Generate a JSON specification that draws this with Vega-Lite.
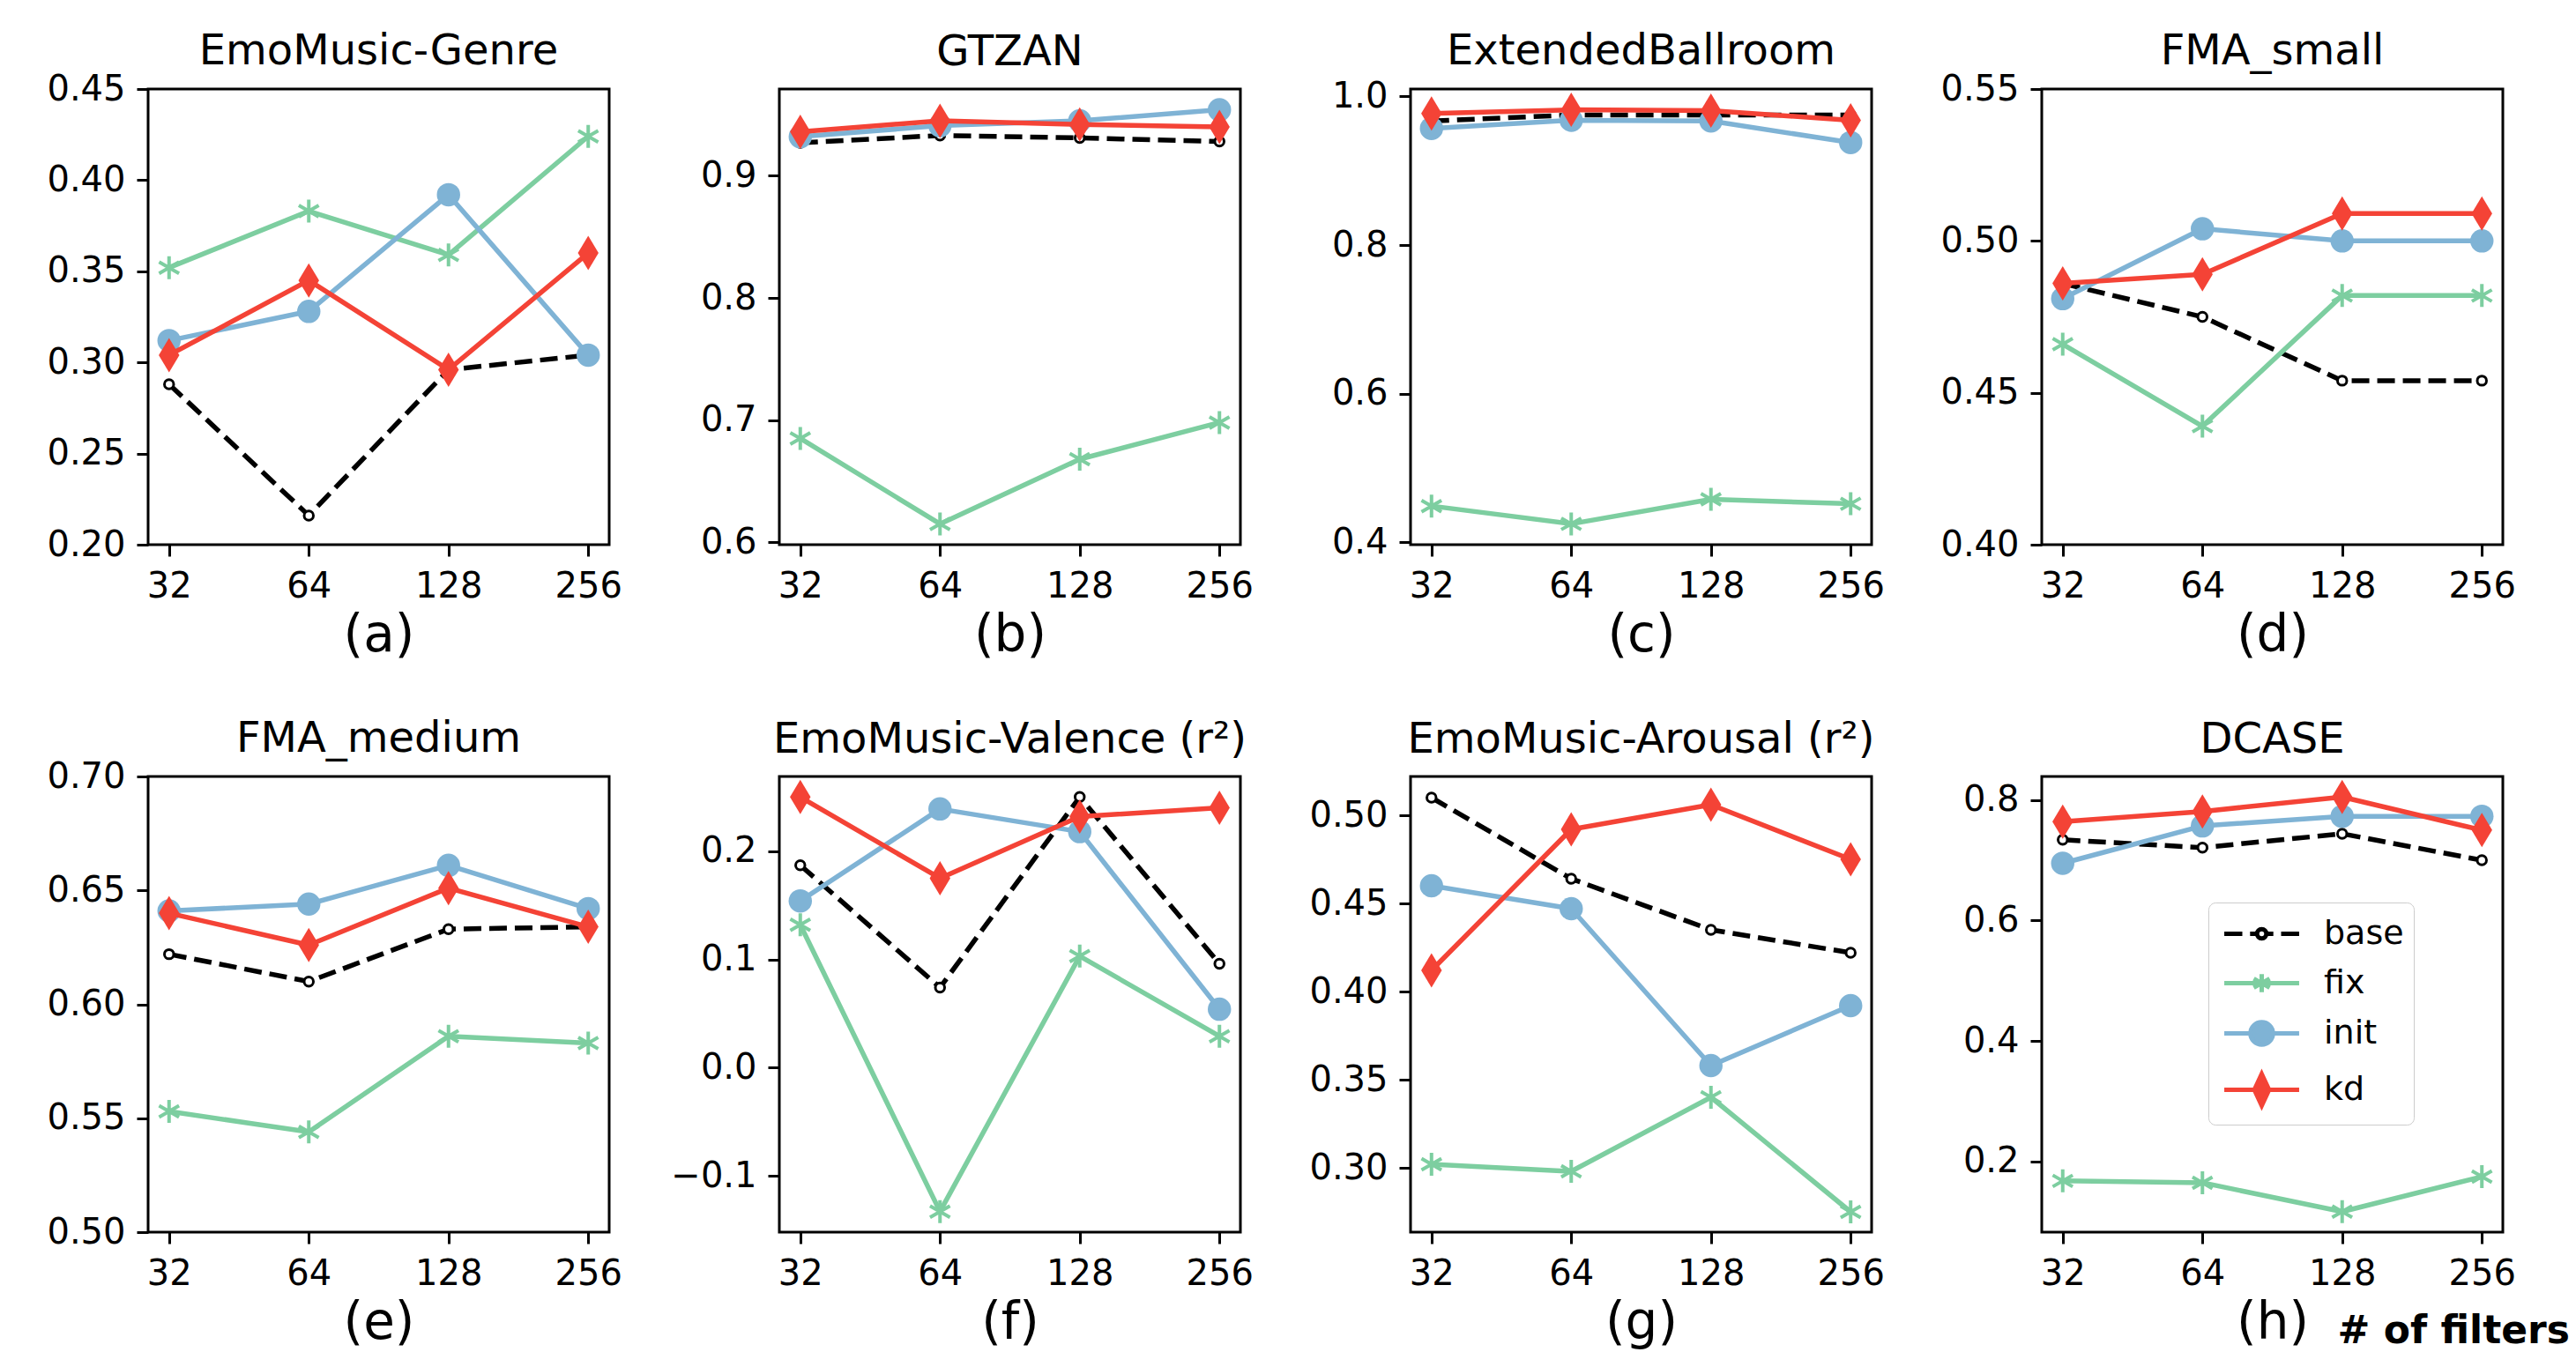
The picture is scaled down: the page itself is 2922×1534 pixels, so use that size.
{
  "$schema": "https://vega.github.io/schema/vega-lite/v6.json",
  "background": "white",
  "padding": {"left": 51, "top": 33, "right": 5, "bottom": 0},
  "config": {
    "font": "DejaVu Sans",
    "view": {"stroke": "#000000", "strokeWidth": 3},
    "axis": {"domain": false, "grid": false, "ticks": true, "tickColor": "#000000", "tickWidth": 3, "tickSize": 13, "labelFont": "DejaVu Sans", "labelFontSize": 40, "labelColor": "#000000", "labelPadding": 13, "labelFlush": false, "labelOverlap": false, "titleFont": "DejaVu Sans", "titleFontSize": 58, "titleFontWeight": "normal", "titleColor": "#000000"},
    "axisX": {"labelPadding": 14, "titlePadding": 7, "labelAngle": 0},
    "title": {"font": "DejaVu Sans", "fontSize": 48, "fontWeight": "normal", "color": "#000000", "baseline": "alphabetic", "offset": 17, "anchor": "middle", "frame": "group"}
  },
  "title": {"text": "# of filters", "orient": "bottom", "anchor": "end", "frame": "bounds", "font": "DejaVu Sans", "fontSize": 44, "fontWeight": "bold", "color": "#000000", "baseline": "alphabetic", "offset": 0, "dy": -8, "dx": 60},
  "resolve": {
    "scale": {"shape": "independent", "fill": "independent", "stroke": "independent"},
    "legend": {"shape": "independent", "fill": "independent", "stroke": "independent"}
  },
  "datasets": {
    "A": [
      {"s": "base", "n": 32, "v": 0.288}, {"s": "base", "n": 64, "v": 0.216}, {"s": "base", "n": 128, "v": 0.296}, {"s": "base", "n": 256, "v": 0.304},
      {"s": "fix", "n": 32, "v": 0.352}, {"s": "fix", "n": 64, "v": 0.383}, {"s": "fix", "n": 128, "v": 0.359}, {"s": "fix", "n": 256, "v": 0.424},
      {"s": "init", "n": 32, "v": 0.312}, {"s": "init", "n": 64, "v": 0.328}, {"s": "init", "n": 128, "v": 0.392}, {"s": "init", "n": 256, "v": 0.304},
      {"s": "kd", "n": 32, "v": 0.304}, {"s": "kd", "n": 64, "v": 0.345}, {"s": "kd", "n": 128, "v": 0.296}, {"s": "kd", "n": 256, "v": 0.360}
    ],
    "B": [
      {"s": "base", "n": 32, "v": 0.927}, {"s": "base", "n": 64, "v": 0.933}, {"s": "base", "n": 128, "v": 0.931}, {"s": "base", "n": 256, "v": 0.928},
      {"s": "fix", "n": 32, "v": 0.685}, {"s": "fix", "n": 64, "v": 0.615}, {"s": "fix", "n": 128, "v": 0.668}, {"s": "fix", "n": 256, "v": 0.698},
      {"s": "init", "n": 32, "v": 0.932}, {"s": "init", "n": 64, "v": 0.941}, {"s": "init", "n": 128, "v": 0.945}, {"s": "init", "n": 256, "v": 0.954},
      {"s": "kd", "n": 32, "v": 0.936}, {"s": "kd", "n": 64, "v": 0.945}, {"s": "kd", "n": 128, "v": 0.942}, {"s": "kd", "n": 256, "v": 0.940}
    ],
    "C": [
      {"s": "base", "n": 32, "v": 0.967}, {"s": "base", "n": 64, "v": 0.975}, {"s": "base", "n": 128, "v": 0.975}, {"s": "base", "n": 256, "v": 0.975},
      {"s": "fix", "n": 32, "v": 0.449}, {"s": "fix", "n": 64, "v": 0.425}, {"s": "fix", "n": 128, "v": 0.458}, {"s": "fix", "n": 256, "v": 0.452},
      {"s": "init", "n": 32, "v": 0.957}, {"s": "init", "n": 64, "v": 0.968}, {"s": "init", "n": 128, "v": 0.967}, {"s": "init", "n": 256, "v": 0.938},
      {"s": "kd", "n": 32, "v": 0.977}, {"s": "kd", "n": 64, "v": 0.982}, {"s": "kd", "n": 128, "v": 0.981}, {"s": "kd", "n": 256, "v": 0.968}
    ],
    "D": [
      {"s": "base", "n": 32, "v": 0.486}, {"s": "base", "n": 64, "v": 0.475}, {"s": "base", "n": 128, "v": 0.454}, {"s": "base", "n": 256, "v": 0.454},
      {"s": "fix", "n": 32, "v": 0.466}, {"s": "fix", "n": 64, "v": 0.439}, {"s": "fix", "n": 128, "v": 0.482}, {"s": "fix", "n": 256, "v": 0.482},
      {"s": "init", "n": 32, "v": 0.481}, {"s": "init", "n": 64, "v": 0.504}, {"s": "init", "n": 128, "v": 0.500}, {"s": "init", "n": 256, "v": 0.500},
      {"s": "kd", "n": 32, "v": 0.486}, {"s": "kd", "n": 64, "v": 0.489}, {"s": "kd", "n": 128, "v": 0.509}, {"s": "kd", "n": 256, "v": 0.509}
    ],
    "E": [
      {"s": "base", "n": 32, "v": 0.622}, {"s": "base", "n": 64, "v": 0.610}, {"s": "base", "n": 128, "v": 0.633}, {"s": "base", "n": 256, "v": 0.634},
      {"s": "fix", "n": 32, "v": 0.553}, {"s": "fix", "n": 64, "v": 0.544}, {"s": "fix", "n": 128, "v": 0.586}, {"s": "fix", "n": 256, "v": 0.583},
      {"s": "init", "n": 32, "v": 0.641}, {"s": "init", "n": 64, "v": 0.644}, {"s": "init", "n": 128, "v": 0.661}, {"s": "init", "n": 256, "v": 0.642},
      {"s": "kd", "n": 32, "v": 0.640}, {"s": "kd", "n": 64, "v": 0.626}, {"s": "kd", "n": 128, "v": 0.651}, {"s": "kd", "n": 256, "v": 0.634}
    ],
    "F": [
      {"s": "base", "n": 32, "v": 0.187}, {"s": "base", "n": 64, "v": 0.074}, {"s": "base", "n": 128, "v": 0.250}, {"s": "base", "n": 256, "v": 0.096},
      {"s": "fix", "n": 32, "v": 0.132}, {"s": "fix", "n": 64, "v": -0.133}, {"s": "fix", "n": 128, "v": 0.103}, {"s": "fix", "n": 256, "v": 0.029},
      {"s": "init", "n": 32, "v": 0.154}, {"s": "init", "n": 64, "v": 0.239}, {"s": "init", "n": 128, "v": 0.218}, {"s": "init", "n": 256, "v": 0.054},
      {"s": "kd", "n": 32, "v": 0.250}, {"s": "kd", "n": 64, "v": 0.175}, {"s": "kd", "n": 128, "v": 0.232}, {"s": "kd", "n": 256, "v": 0.240}
    ],
    "G": [
      {"s": "base", "n": 32, "v": 0.510}, {"s": "base", "n": 64, "v": 0.464}, {"s": "base", "n": 128, "v": 0.435}, {"s": "base", "n": 256, "v": 0.422},
      {"s": "fix", "n": 32, "v": 0.302}, {"s": "fix", "n": 64, "v": 0.298}, {"s": "fix", "n": 128, "v": 0.340}, {"s": "fix", "n": 256, "v": 0.275},
      {"s": "init", "n": 32, "v": 0.460}, {"s": "init", "n": 64, "v": 0.447}, {"s": "init", "n": 128, "v": 0.358}, {"s": "init", "n": 256, "v": 0.392},
      {"s": "kd", "n": 32, "v": 0.412}, {"s": "kd", "n": 64, "v": 0.492}, {"s": "kd", "n": 128, "v": 0.506}, {"s": "kd", "n": 256, "v": 0.475}
    ],
    "H": [
      {"s": "base", "n": 32, "v": 0.734}, {"s": "base", "n": 64, "v": 0.721}, {"s": "base", "n": 128, "v": 0.744}, {"s": "base", "n": 256, "v": 0.700},
      {"s": "fix", "n": 32, "v": 0.168}, {"s": "fix", "n": 64, "v": 0.165}, {"s": "fix", "n": 128, "v": 0.117}, {"s": "fix", "n": 256, "v": 0.175},
      {"s": "init", "n": 32, "v": 0.695}, {"s": "init", "n": 64, "v": 0.757}, {"s": "init", "n": 128, "v": 0.773}, {"s": "init", "n": 256, "v": 0.773},
      {"s": "kd", "n": 32, "v": 0.764}, {"s": "kd", "n": 64, "v": 0.781}, {"s": "kd", "n": 128, "v": 0.805}, {"s": "kd", "n": 256, "v": 0.750}
    ]
  },
  "columns": 4,
  "spacing": {"row": 263, "column": 193},
  "bounds": "flush",
  "concat": [
    {
      "width": 523, "height": 517, "data": {"name": "A"}, "title": {"text": "EmoMusic-Genre", "offset": -1.6},
      "encoding": {
        "x": {"field": "n", "type": "ordinal", "scale": {"type": "point", "domain": [32, 64, 128, 256], "padding": 0.15}, "axis": {"title": "(a)"}},
        "y": {"field": "v", "type": "quantitative", "scale": {"domain": [0.2, 0.45], "nice": false, "zero": false}, "axis": {"title": null, "values": [0.2, 0.25, 0.3, 0.35, 0.4, 0.45], "format": ".2f"}}
      },
      "layer": [
        {"transform": [{"filter": "datum.s === 'base'"}], "mark": {"type": "line", "color": "#000000", "strokeWidth": 5.5, "strokeDash": [20, 9], "point": {"shape": "circle", "size": 110, "filled": true, "fill": "#ffffff", "stroke": "#000000", "strokeWidth": 3, "opacity": 1}}},
        {"transform": [{"filter": "datum.s === 'fix'"}], "mark": {"type": "line", "color": "#7DCEA0", "strokeWidth": 5.5, "strokeJoin": "round", "point": {"shape": "M0,-1L0,1M-0.87,-0.5L0.87,0.5M-0.87,0.5L0.87,-0.5", "size": 676, "filled": false, "fill": "transparent", "stroke": "#7DCEA0", "strokeWidth": 4, "opacity": 1}}},
        {"transform": [{"filter": "datum.s === 'init'"}], "mark": {"type": "line", "color": "#7FB3D5", "strokeWidth": 5.5, "strokeJoin": "round", "point": {"shape": "circle", "size": 700, "filled": true, "color": "#7FB3D5", "opacity": 1}}},
        {"transform": [{"filter": "datum.s === 'kd'"}], "mark": {"type": "line", "color": "#F44336", "strokeWidth": 5.5, "strokeJoin": "round", "point": {"shape": "M0,-1L0.6,0L0,1L-0.6,0Z", "size": 1521, "filled": true, "color": "#F44336", "opacity": 1}}}
      ]
    },
    {
      "width": 523, "height": 517, "data": {"name": "B"}, "title": {"text": "GTZAN", "offset": 17},
      "encoding": {
        "x": {"field": "n", "type": "ordinal", "scale": {"type": "point", "domain": [32, 64, 128, 256], "padding": 0.15}, "axis": {"title": "(b)"}},
        "y": {"field": "v", "type": "quantitative", "scale": {"domain": [0.598, 0.971], "nice": false, "zero": false}, "axis": {"title": null, "values": [0.6, 0.7, 0.8, 0.9], "format": ".1f"}}
      },
      "layer": [
        {"transform": [{"filter": "datum.s === 'base'"}], "mark": {"type": "line", "color": "#000000", "strokeWidth": 5.5, "strokeDash": [20, 9], "point": {"shape": "circle", "size": 110, "filled": true, "fill": "#ffffff", "stroke": "#000000", "strokeWidth": 3, "opacity": 1}}},
        {"transform": [{"filter": "datum.s === 'fix'"}], "mark": {"type": "line", "color": "#7DCEA0", "strokeWidth": 5.5, "strokeJoin": "round", "point": {"shape": "M0,-1L0,1M-0.87,-0.5L0.87,0.5M-0.87,0.5L0.87,-0.5", "size": 676, "filled": false, "fill": "transparent", "stroke": "#7DCEA0", "strokeWidth": 4, "opacity": 1}}},
        {"transform": [{"filter": "datum.s === 'init'"}], "mark": {"type": "line", "color": "#7FB3D5", "strokeWidth": 5.5, "strokeJoin": "round", "point": {"shape": "circle", "size": 700, "filled": true, "color": "#7FB3D5", "opacity": 1}}},
        {"transform": [{"filter": "datum.s === 'kd'"}], "mark": {"type": "line", "color": "#F44336", "strokeWidth": 5.5, "strokeJoin": "round", "point": {"shape": "M0,-1L0.6,0L0,1L-0.6,0Z", "size": 1521, "filled": true, "color": "#F44336", "opacity": 1}}}
      ]
    },
    {
      "width": 523, "height": 517, "data": {"name": "C"}, "title": {"text": "ExtendedBallroom", "offset": 6.8},
      "encoding": {
        "x": {"field": "n", "type": "ordinal", "scale": {"type": "point", "domain": [32, 64, 128, 256], "padding": 0.15}, "axis": {"title": "(c)"}},
        "y": {"field": "v", "type": "quantitative", "scale": {"domain": [0.397, 1.01], "nice": false, "zero": false}, "axis": {"title": null, "values": [0.4, 0.6, 0.8, 1.0], "format": ".1f"}}
      },
      "layer": [
        {"transform": [{"filter": "datum.s === 'base'"}], "mark": {"type": "line", "color": "#000000", "strokeWidth": 5.5, "strokeDash": [20, 9], "point": {"shape": "circle", "size": 110, "filled": true, "fill": "#ffffff", "stroke": "#000000", "strokeWidth": 3, "opacity": 1}}},
        {"transform": [{"filter": "datum.s === 'fix'"}], "mark": {"type": "line", "color": "#7DCEA0", "strokeWidth": 5.5, "strokeJoin": "round", "point": {"shape": "M0,-1L0,1M-0.87,-0.5L0.87,0.5M-0.87,0.5L0.87,-0.5", "size": 676, "filled": false, "fill": "transparent", "stroke": "#7DCEA0", "strokeWidth": 4, "opacity": 1}}},
        {"transform": [{"filter": "datum.s === 'init'"}], "mark": {"type": "line", "color": "#7FB3D5", "strokeWidth": 5.5, "strokeJoin": "round", "point": {"shape": "circle", "size": 700, "filled": true, "color": "#7FB3D5", "opacity": 1}}},
        {"transform": [{"filter": "datum.s === 'kd'"}], "mark": {"type": "line", "color": "#F44336", "strokeWidth": 5.5, "strokeJoin": "round", "point": {"shape": "M0,-1L0.6,0L0,1L-0.6,0Z", "size": 1521, "filled": true, "color": "#F44336", "opacity": 1}}}
      ]
    },
    {
      "width": 523, "height": 517, "data": {"name": "D"}, "title": {"text": "FMA_small", "offset": -1.6},
      "encoding": {
        "x": {"field": "n", "type": "ordinal", "scale": {"type": "point", "domain": [32, 64, 128, 256], "padding": 0.15}, "axis": {"title": "(d)"}},
        "y": {"field": "v", "type": "quantitative", "scale": {"domain": [0.4, 0.55], "nice": false, "zero": false}, "axis": {"title": null, "values": [0.4, 0.45, 0.5, 0.55], "format": ".2f"}}
      },
      "layer": [
        {"transform": [{"filter": "datum.s === 'base'"}], "mark": {"type": "line", "color": "#000000", "strokeWidth": 5.5, "strokeDash": [20, 9], "point": {"shape": "circle", "size": 110, "filled": true, "fill": "#ffffff", "stroke": "#000000", "strokeWidth": 3, "opacity": 1}}},
        {"transform": [{"filter": "datum.s === 'fix'"}], "mark": {"type": "line", "color": "#7DCEA0", "strokeWidth": 5.5, "strokeJoin": "round", "point": {"shape": "M0,-1L0,1M-0.87,-0.5L0.87,0.5M-0.87,0.5L0.87,-0.5", "size": 676, "filled": false, "fill": "transparent", "stroke": "#7DCEA0", "strokeWidth": 4, "opacity": 1}}},
        {"transform": [{"filter": "datum.s === 'init'"}], "mark": {"type": "line", "color": "#7FB3D5", "strokeWidth": 5.5, "strokeJoin": "round", "point": {"shape": "circle", "size": 700, "filled": true, "color": "#7FB3D5", "opacity": 1}}},
        {"transform": [{"filter": "datum.s === 'kd'"}], "mark": {"type": "line", "color": "#F44336", "strokeWidth": 5.5, "strokeJoin": "round", "point": {"shape": "M0,-1L0.6,0L0,1L-0.6,0Z", "size": 1521, "filled": true, "color": "#F44336", "opacity": 1}}}
      ]
    },
    {
      "width": 523, "height": 517, "data": {"name": "E"}, "title": {"text": "FMA_medium", "offset": -1.6},
      "encoding": {
        "x": {"field": "n", "type": "ordinal", "scale": {"type": "point", "domain": [32, 64, 128, 256], "padding": 0.15}, "axis": {"title": "(e)"}},
        "y": {"field": "v", "type": "quantitative", "scale": {"domain": [0.5, 0.7], "nice": false, "zero": false}, "axis": {"title": null, "values": [0.5, 0.55, 0.6, 0.65, 0.7], "format": ".2f"}}
      },
      "layer": [
        {"transform": [{"filter": "datum.s === 'base'"}], "mark": {"type": "line", "color": "#000000", "strokeWidth": 5.5, "strokeDash": [20, 9], "point": {"shape": "circle", "size": 110, "filled": true, "fill": "#ffffff", "stroke": "#000000", "strokeWidth": 3, "opacity": 1}}},
        {"transform": [{"filter": "datum.s === 'fix'"}], "mark": {"type": "line", "color": "#7DCEA0", "strokeWidth": 5.5, "strokeJoin": "round", "point": {"shape": "M0,-1L0,1M-0.87,-0.5L0.87,0.5M-0.87,0.5L0.87,-0.5", "size": 676, "filled": false, "fill": "transparent", "stroke": "#7DCEA0", "strokeWidth": 4, "opacity": 1}}},
        {"transform": [{"filter": "datum.s === 'init'"}], "mark": {"type": "line", "color": "#7FB3D5", "strokeWidth": 5.5, "strokeJoin": "round", "point": {"shape": "circle", "size": 700, "filled": true, "color": "#7FB3D5", "opacity": 1}}},
        {"transform": [{"filter": "datum.s === 'kd'"}], "mark": {"type": "line", "color": "#F44336", "strokeWidth": 5.5, "strokeJoin": "round", "point": {"shape": "M0,-1L0.6,0L0,1L-0.6,0Z", "size": 1521, "filled": true, "color": "#F44336", "opacity": 1}}}
      ]
    },
    {
      "width": 523, "height": 517, "data": {"name": "F"}, "title": {"text": "EmoMusic-Valence (r²)", "offset": 17},
      "encoding": {
        "x": {"field": "n", "type": "ordinal", "scale": {"type": "point", "domain": [32, 64, 128, 256], "padding": 0.15}, "axis": {"title": "(f)"}},
        "y": {"field": "v", "type": "quantitative", "scale": {"domain": [-0.152, 0.269], "nice": false, "zero": false}, "axis": {"title": null, "values": [-0.1, 0, 0.1, 0.2], "format": ".1f"}}
      },
      "layer": [
        {"transform": [{"filter": "datum.s === 'base'"}], "mark": {"type": "line", "color": "#000000", "strokeWidth": 5.5, "strokeDash": [20, 9], "point": {"shape": "circle", "size": 110, "filled": true, "fill": "#ffffff", "stroke": "#000000", "strokeWidth": 3, "opacity": 1}}},
        {"transform": [{"filter": "datum.s === 'fix'"}], "mark": {"type": "line", "color": "#7DCEA0", "strokeWidth": 5.5, "strokeJoin": "round", "point": {"shape": "M0,-1L0,1M-0.87,-0.5L0.87,0.5M-0.87,0.5L0.87,-0.5", "size": 676, "filled": false, "fill": "transparent", "stroke": "#7DCEA0", "strokeWidth": 4, "opacity": 1}}},
        {"transform": [{"filter": "datum.s === 'init'"}], "mark": {"type": "line", "color": "#7FB3D5", "strokeWidth": 5.5, "strokeJoin": "round", "point": {"shape": "circle", "size": 700, "filled": true, "color": "#7FB3D5", "opacity": 1}}},
        {"transform": [{"filter": "datum.s === 'kd'"}], "mark": {"type": "line", "color": "#F44336", "strokeWidth": 5.5, "strokeJoin": "round", "point": {"shape": "M0,-1L0.6,0L0,1L-0.6,0Z", "size": 1521, "filled": true, "color": "#F44336", "opacity": 1}}}
      ]
    },
    {
      "width": 523, "height": 517, "data": {"name": "G"}, "title": {"text": "EmoMusic-Arousal (r²)", "offset": 17},
      "encoding": {
        "x": {"field": "n", "type": "ordinal", "scale": {"type": "point", "domain": [32, 64, 128, 256], "padding": 0.15}, "axis": {"title": "(g)"}},
        "y": {"field": "v", "type": "quantitative", "scale": {"domain": [0.2635, 0.522], "nice": false, "zero": false}, "axis": {"title": null, "values": [0.3, 0.35, 0.4, 0.45, 0.5], "format": ".2f"}}
      },
      "layer": [
        {"transform": [{"filter": "datum.s === 'base'"}], "mark": {"type": "line", "color": "#000000", "strokeWidth": 5.5, "strokeDash": [20, 9], "point": {"shape": "circle", "size": 110, "filled": true, "fill": "#ffffff", "stroke": "#000000", "strokeWidth": 3, "opacity": 1}}},
        {"transform": [{"filter": "datum.s === 'fix'"}], "mark": {"type": "line", "color": "#7DCEA0", "strokeWidth": 5.5, "strokeJoin": "round", "point": {"shape": "M0,-1L0,1M-0.87,-0.5L0.87,0.5M-0.87,0.5L0.87,-0.5", "size": 676, "filled": false, "fill": "transparent", "stroke": "#7DCEA0", "strokeWidth": 4, "opacity": 1}}},
        {"transform": [{"filter": "datum.s === 'init'"}], "mark": {"type": "line", "color": "#7FB3D5", "strokeWidth": 5.5, "strokeJoin": "round", "point": {"shape": "circle", "size": 700, "filled": true, "color": "#7FB3D5", "opacity": 1}}},
        {"transform": [{"filter": "datum.s === 'kd'"}], "mark": {"type": "line", "color": "#F44336", "strokeWidth": 5.5, "strokeJoin": "round", "point": {"shape": "M0,-1L0.6,0L0,1L-0.6,0Z", "size": 1521, "filled": true, "color": "#F44336", "opacity": 1}}}
      ]
    },
    {
      "width": 523, "height": 517, "data": {"name": "H"}, "title": {"text": "DCASE", "offset": 17},
      "encoding": {
        "x": {"field": "n", "type": "ordinal", "scale": {"type": "point", "domain": [32, 64, 128, 256], "padding": 0.15}, "axis": {"title": "(h)"}},
        "y": {"field": "v", "type": "quantitative", "scale": {"domain": [0.083, 0.839], "nice": false, "zero": false}, "axis": {"title": null, "values": [0.2, 0.4, 0.6, 0.8], "format": ".1f"}}
      },
      "layer": [
        {"transform": [{"filter": "datum.s === 'base'"}], "mark": {"type": "line", "color": "#000000", "strokeWidth": 5.5, "strokeDash": [20, 9], "point": {"shape": "circle", "size": 110, "filled": true, "fill": "#ffffff", "stroke": "#000000", "strokeWidth": 3, "opacity": 1}}},
        {"transform": [{"filter": "datum.s === 'fix'"}], "mark": {"type": "line", "color": "#7DCEA0", "strokeWidth": 5.5, "strokeJoin": "round", "point": {"shape": "M0,-1L0,1M-0.87,-0.5L0.87,0.5M-0.87,0.5L0.87,-0.5", "size": 676, "filled": false, "fill": "transparent", "stroke": "#7DCEA0", "strokeWidth": 4, "opacity": 1}}},
        {"transform": [{"filter": "datum.s === 'init'"}], "mark": {"type": "line", "color": "#7FB3D5", "strokeWidth": 5.5, "strokeJoin": "round", "point": {"shape": "circle", "size": 700, "filled": true, "color": "#7FB3D5", "opacity": 1}}},
        {"transform": [{"filter": "datum.s === 'kd'"}], "mark": {"type": "line", "color": "#F44336", "strokeWidth": 5.5, "strokeJoin": "round", "point": {"shape": "M0,-1L0.6,0L0,1L-0.6,0Z", "size": 1521, "filled": true, "color": "#F44336", "opacity": 1}}},
        {
          "transform": [{"filter": "false"}],
          "mark": {"type": "point", "filled": true, "opacity": 1},
          "encoding": {
            "shape": {"field": "s", "type": "nominal", "scale": {"domain": ["base", "fix", "init", "kd"], "range": [
              "M-1.93,0L-1.0,0M-0.6,0L-0.24,0M0.24,0L0.6,0M1.0,0L1.93,0M-0.24,0A0.24,0.24 0 1,1 0.24,0A0.24,0.24 0 1,1 -0.24,0Z",
              "M-1.93,0L1.93,0M0,-0.47L0,0.47M-0.41,-0.235L0.41,0.235M-0.41,0.235L0.41,-0.235",
              "M-1.93,0L-0.58,0M0.58,0L1.93,0M-0.58,0A0.58,0.58 0 1,1 0.58,0A0.58,0.58 0 1,1 -0.58,0Z",
              "M-1.93,0L-0.38,0M0.38,0L1.93,0M0,-0.82L0.38,0L0,0.82L-0.38,0Z"
            ]}, "legend": {"title": null, "orient": "none", "legendX": 189, "legendY": 143, "direction": "vertical", "symbolSize": 1936, "symbolStrokeWidth": 5, "symbolOffset": 25, "labelOffset": 46, "labelFontSize": 38, "labelFont": "DejaVu Sans", "labelColor": "#000000", "rowPadding": 12, "padding": 11, "strokeColor": "#cccccc", "fillColor": "rgba(255,255,255,0.8)", "cornerRadius": 8, "encode": {"legend": {"update": {"strokeWidth": {"value": 3}}}}}},
            "fill": {"field": "s", "type": "nominal", "scale": {"domain": ["base", "fix", "init", "kd"], "range": ["#ffffff", "#7DCEA0", "#7FB3D5", "#F44336"]}, "legend": {"title": null, "orient": "none", "legendX": 189, "legendY": 143, "direction": "vertical", "symbolSize": 1936, "symbolStrokeWidth": 5, "symbolOffset": 25, "labelOffset": 46, "labelFontSize": 38, "labelFont": "DejaVu Sans", "labelColor": "#000000", "rowPadding": 12, "padding": 11, "strokeColor": "#cccccc", "fillColor": "rgba(255,255,255,0.8)", "cornerRadius": 8, "encode": {"legend": {"update": {"strokeWidth": {"value": 3}}}}}},
            "stroke": {"field": "s", "type": "nominal", "scale": {"domain": ["base", "fix", "init", "kd"], "range": ["#000000", "#7DCEA0", "#7FB3D5", "#F44336"]}, "legend": {"title": null, "orient": "none", "legendX": 189, "legendY": 143, "direction": "vertical", "symbolSize": 1936, "symbolStrokeWidth": 5, "symbolOffset": 25, "labelOffset": 46, "labelFontSize": 38, "labelFont": "DejaVu Sans", "labelColor": "#000000", "rowPadding": 12, "padding": 11, "strokeColor": "#cccccc", "fillColor": "rgba(255,255,255,0.8)", "cornerRadius": 8, "encode": {"legend": {"update": {"strokeWidth": {"value": 3}}}}}}
          }
        }
      ]
    }
  ]
}
